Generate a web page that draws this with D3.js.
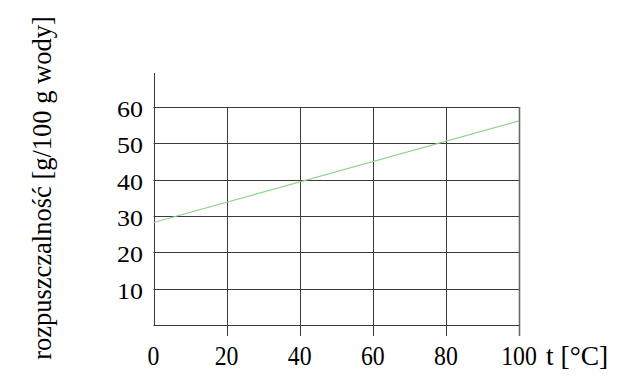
<!DOCTYPE html>
<html>
<head>
<meta charset="utf-8">
<script src="https://cdn.jsdelivr.net/npm/d3@7"></script>
<style>
  body { margin: 0; background: #fff; }
  text { font-family: "Liberation Serif", "Times New Roman", serif; fill: #000; }
</style>
</head>
<body>
<svg id="chart" width="640" height="389"></svg>
<script>
// data
const temps = [0, 100]
const solubility = [28.2, 56.2]
const xTicks = [0, 20, 40, 60, 80, 100]
const yTicks = [10, 20, 30, 40, 50, 60]

const svg = d3.select('#chart')
const margin = {left: 153.5, right: 519, top: 107, bottom: 325}

const x_scale = d3.scaleLinear().domain([0, 100]).range([margin.left, margin.right])
const y_scale = d3.scaleLinear().domain([0, 60]).range([margin.bottom, margin.top])

const gridColor = '#3a3a3a'

// horizontal grid lines
svg.append('g')
    .selectAll('line')
    .data(yTicks)
    .join('line')
    .attr('x1', margin.left)
    .attr('x2', margin.right)
    .attr('y1', d => Math.round(y_scale(d)) + 0.5)
    .attr('y2', d => Math.round(y_scale(d)) + 0.5)
    .style('stroke', gridColor)
    .style('stroke-width', 1)

// vertical grid lines, running down past the axis as ticks
svg.append('g')
    .selectAll('line')
    .data(xTicks.slice(1))
    .join('line')
    .attr('x1', d => Math.round(x_scale(d)) + 0.5)
    .attr('x2', d => Math.round(x_scale(d)) + 0.5)
    .attr('y1', margin.top)
    .attr('y2', margin.bottom + 11)
    .style('stroke', d => d === 100 ? '#6a6a6a' : gridColor)
    .style('stroke-width', d => d === 100 ? 1.6 : 1)

// axes
svg.append('line')
    .attr('x1', Math.round(margin.left) + 0.5).attr('x2', Math.round(margin.left) + 0.5)
    .attr('y1', 73).attr('y2', margin.bottom)
    .style('stroke', gridColor)
svg.append('line')
    .attr('x1', margin.left).attr('x2', margin.right)
    .attr('y1', Math.round(y_scale(0)) + 0.5).attr('y2', Math.round(y_scale(0)) + 0.5)
    .style('stroke', gridColor)

// y tick labels (a bit squashed in the original)
svg.append('g')
    .selectAll('text')
    .data(yTicks)
    .join('text')
    .attr('transform', d => `translate(143, ${y_scale(d) + 10})scale(1, 0.9)`)
    .style('text-anchor', 'end')
    .style('font-size', '26px')
    .text(d => d)

// x tick labels
svg.append('g')
    .selectAll('text')
    .data(xTicks)
    .join('text')
    .attr('transform', d => `translate(${x_scale(d)}, 365)scale(0.88, 1)`)
    .style('text-anchor', 'middle')
    .style('font-size', '27px')
    .text(d => d)

svg.append('text')
    .attr('x', 546)
    .attr('y', 365)
    .style('font-size', '27.5px')
    .text('t [°C]')

svg.append('text')
    .attr('transform', 'translate(51, 188)rotate(-90)')
    .style('text-anchor', 'middle')
    .style('font-size', '26.5px')
    .text('rozpuszczalność [g/100 g wody]')

// solubility line
const line = d3.line()
    .x((d, i) => x_scale(temps[i]))
    .y(d => y_scale(d))

svg.append('path')
    .datum(solubility)
    .attr('d', line)
    .style('fill', 'none')
    .style('stroke', '#8fd48a')
    .style('stroke-width', 1.2)
</script>
</body>
</html>
